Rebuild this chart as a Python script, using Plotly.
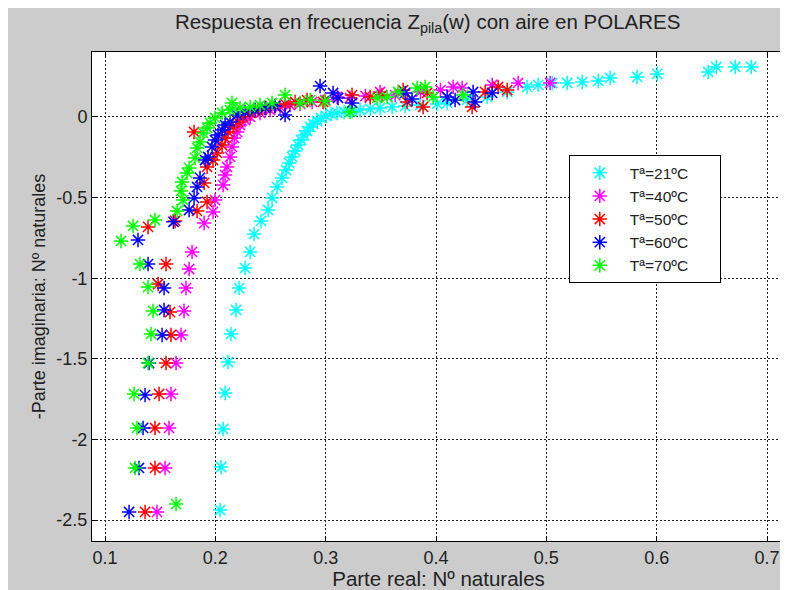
import plotly.graph_objects as go

# ---- data ----
t21_x = [0.2043, 0.2052, 0.2070, 0.2088, 0.2115, 0.2142, 0.2188, 0.2215, 0.2269, 0.2315,
         0.2351, 0.2414, 0.2478, 0.2514, 0.2559, 0.2605, 0.2641, 0.2668, 0.2695, 0.2723,
         0.2750, 0.2777, 0.2804, 0.2831, 0.2859, 0.2886, 0.2922, 0.2958, 0.3004, 0.3049,
         0.3103, 0.3167, 0.3239, 0.3312, 0.3403, 0.3493, 0.3602, 0.3720, 0.3856, 0.4010,
         0.4101, 0.4282, 0.4463, 0.4645, 0.4826, 0.4926, 0.5053, 0.5189, 0.5325, 0.5470,
         0.5578, 0.5823, 0.6005, 0.6467, 0.6540, 0.6712, 0.6857]
t21_y = [-2.438, -2.171, -1.935, -1.712, -1.520, -1.346, -1.197, -1.061, -0.937, -0.837,
         -0.726, -0.645, -0.577, -0.502, -0.434, -0.378, -0.329, -0.285, -0.248, -0.211,
         -0.174, -0.143, -0.112, -0.087, -0.062, -0.043, -0.025, -0.006, 0.006, 0.019,
         0.025, 0.031, 0.037, 0.043, 0.050, 0.056, 0.062, 0.068, 0.074, 0.081,
         0.087, 0.105, 0.124, 0.155, 0.186, 0.199, 0.211, 0.211, 0.217, 0.223,
         0.242, 0.248, 0.267, 0.279, 0.310, 0.310, 0.310]

t40_x = [0.1471, 0.1544, 0.1580, 0.1598, 0.1644, 0.1689, 0.1716, 0.1734, 0.1762, 0.1789,
         0.1898, 0.1979, 0.1997, 0.2070, 0.2088, 0.2106, 0.2133, 0.2151, 0.2170, 0.2197,
         0.2224, 0.2269, 0.2315, 0.2405, 0.2496, 0.2587, 0.2677, 0.2768, 0.2877, 0.2995,
         0.3103, 0.3220, 0.3360, 0.3493, 0.3630, 0.3860, 0.4040, 0.4155, 0.4237, 0.4509,
         0.4744, 0.5034]
t40_y = [-2.450, -2.177, -1.929, -1.718, -1.526, -1.352, -1.203, -1.061, -0.943, -0.837,
         -0.658, -0.589, -0.515, -0.422, -0.360, -0.310, -0.248, -0.186, -0.130, -0.093,
         -0.050, -0.019, 0.000, 0.025, 0.043, 0.062, 0.074, 0.081, 0.093, 0.105,
         0.124, 0.118, 0.130, 0.155, 0.136, 0.155, 0.167, 0.186, 0.180, 0.199,
         0.211, 0.211]

t50_x = [0.1363, 0.1453, 0.1453, 0.1490, 0.1553, 0.1598, 0.1589, 0.1481, 0.1553, 0.1390,
         0.1635, 0.1834, 0.1925, 0.1898, 0.1925, 0.1979, 0.2015, 0.2061, 0.2088, 0.2115,
         0.2160, 0.2206, 0.2251, 0.1807, 0.2315, 0.2387, 0.2460, 0.2541, 0.2632, 0.2723,
         0.2831, 0.2976, 0.3239, 0.3403, 0.3511, 0.3702, 0.3738, 0.3883, 0.3919, 0.4327,
         0.4445, 0.4563, 0.4645]
t50_y = [-2.450, -2.177, -1.929, -1.718, -1.526, -1.352, -1.210, -1.036, -0.912, -0.682,
         -0.645, -0.583, -0.527, -0.409, -0.310, -0.267, -0.223, -0.174, -0.130, -0.093,
         -0.062, -0.031, 0.000, -0.093, 0.025, 0.043, 0.056, 0.068, 0.081, 0.093,
         0.105, 0.093, 0.136, 0.124, 0.136, 0.167, 0.093, 0.062, 0.149, 0.062,
         0.155, 0.186, 0.167]

t60_x = [0.1218, 0.1308, 0.1345, 0.1363, 0.1399, 0.1517, 0.1535, 0.1535, 0.1390, 0.1299,
         0.1620, 0.1762, 0.1807, 0.1834, 0.1861, 0.1907, 0.1934, 0.1970, 0.1997, 0.2024,
         0.2061, 0.2088, 0.2133, 0.2197, 0.2269, 0.2360, 0.2451, 0.2541, 0.2632, 0.2949,
         0.3067, 0.3112, 0.3239, 0.3720, 0.3783, 0.4101, 0.4173, 0.4336, 0.4354, 0.4509]
t60_y = [-2.450, -2.177, -1.929, -1.725, -1.526, -1.352, -1.197, -1.061, -0.912, -0.763,
         -0.650, -0.577, -0.502, -0.434, -0.378, -0.267, -0.248, -0.186, -0.143, -0.112,
         -0.081, -0.050, -0.031, 0.012, 0.031, 0.043, 0.056, 0.068, 0.012, 0.192,
         0.149, 0.118, 0.087, 0.149, 0.112, 0.124, 0.105, 0.155, 0.093, 0.149]

t70_x = [0.1644, 0.1272, 0.1290, 0.1263, 0.1390, 0.1417, 0.1435, 0.1390, 0.1317, 0.1145,
         0.1254, 0.1453, 0.1653, 0.1707, 0.1689, 0.1698, 0.1743, 0.1762, 0.1816, 0.1834,
         0.1861, 0.1888, 0.1925, 0.1952, 0.1997, 0.2061, 0.2151, 0.2133, 0.2224, 0.2315,
         0.2405, 0.2514, 0.2632, 0.2768, 0.2859, 0.2995, 0.3221, 0.3466, 0.3557, 0.3656,
         0.3829, 0.3901, 0.3974, 0.4246]
t70_y = [-2.401, -2.177, -1.929, -1.718, -1.526, -1.346, -1.203, -1.055, -0.912, -0.769,
         -0.676, -0.639, -0.583, -0.515, -0.459, -0.403, -0.347, -0.316, -0.254, -0.192,
         -0.155, -0.099, -0.068, -0.037, -0.006, 0.025, 0.087, 0.043, 0.056, 0.062,
         0.074, 0.087, 0.136, 0.087, 0.105, 0.099, 0.031, 0.118, 0.124, 0.155,
         0.180, 0.186, 0.124, 0.136]

series_names = ["Tª=21ºC", "Tª=40ºC", "Tª=50ºC", "Tª=60ºC", "Tª=70ºC"]
series_colors = ["#00ffff", "#ff00ff", "#ff0000", "#0000ff", "#00ff00"]
series_x = [t21_x, t40_x, t50_x, t60_x, t70_x]
series_y = [t21_y, t40_y, t50_y, t60_y, t70_y]

x_ticks = [0.1, 0.2, 0.3, 0.4, 0.5, 0.6, 0.7]
y_ticks = [-2.5, -2, -1.5, -1, -0.5, 0]

FONT = "Liberation Sans"
TXT = "#222222"
PAD = "\u00a0" * 6  # right padding inside legend box

fig = go.Figure()
for name, col, xs, ys in zip(series_names, series_colors, series_x, series_y):
    fig.add_trace(go.Scatter(
        x=xs, y=ys, mode="markers", name=name + PAD,
        marker=dict(symbol="asterisk-open", size=12, color=col,
                    line=dict(color=col, width=1.5)),
    ))

axis_common = dict(
    showline=True, linecolor="black", linewidth=1, mirror="ticks",
    ticks="inside", ticklen=5, tickcolor="black",
    showgrid=True, gridcolor="#222222", gridwidth=1, griddash="2px,2px",
    zeroline=False, automargin=False,
    tickfont=dict(family=FONT, size=18, color=TXT),
)

fig.update_layout(
    width=780, height=582,
    paper_bgcolor="#cccccc", plot_bgcolor="white",
    margin=dict(l=84, r=3, t=44, b=49),
    title=dict(text="Respuesta en frecuencia Z<sub>pila</sub>(w) con aire en POLARES",
               x=0.538, xanchor="center", y=0.976, yanchor="middle",
               font=dict(family=FONT, size=20.5, color=TXT)),
    xaxis=dict(range=[0.0882, 0.7163], tickvals=x_ticks, ticktext=[str(v) for v in x_ticks],
               title=dict(text="Parte real: Nº naturales", standoff=2,
                          font=dict(family=FONT, size=20.5, color=TXT)),
               **axis_common),
    yaxis=dict(range=[-2.630, 0.403], tickvals=y_ticks, ticktext=["-2.5", "-2", "-1.5", "-1", "-0.5", "0"],
               title=dict(text="-Parte imaginaria: Nº naturales", standoff=6,
                          font=dict(family=FONT, size=18, color=TXT)),
               **axis_common),
    legend=dict(x=0.688, y=0.789, xanchor="left", yanchor="top",
                bgcolor="white", bordercolor="black", borderwidth=1,
                itemwidth=50,
                font=dict(family=FONT, size=15.5, color=TXT)),
    showlegend=True,
)

fig.write_html("out.html")
